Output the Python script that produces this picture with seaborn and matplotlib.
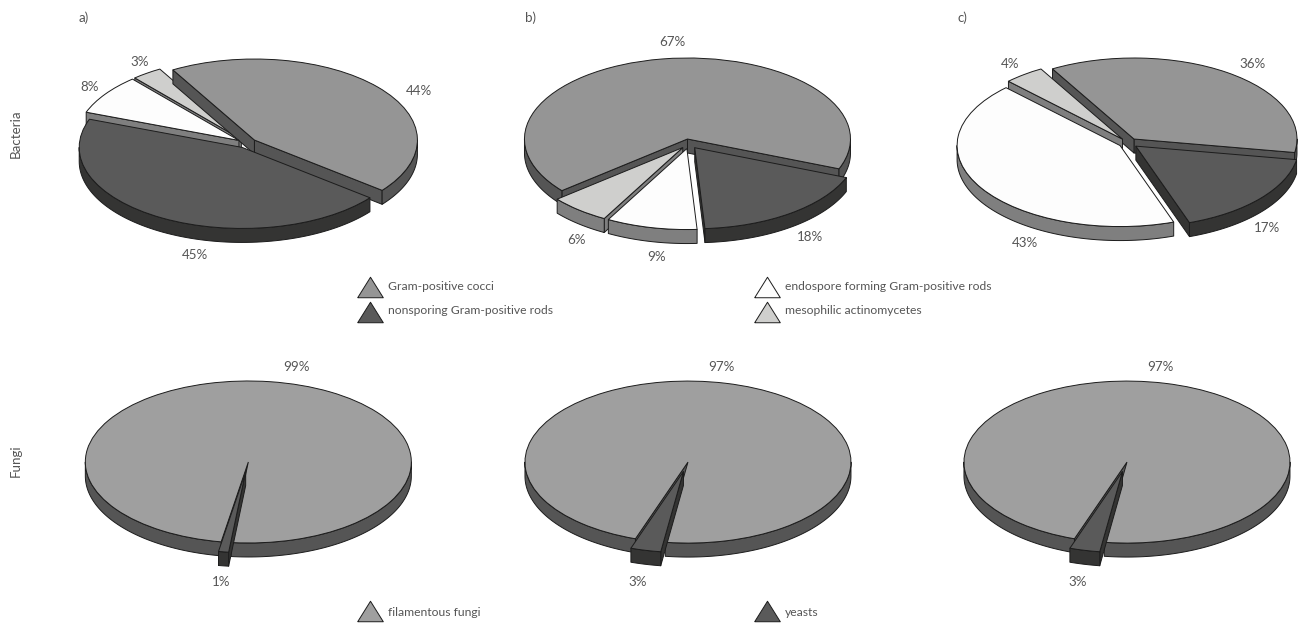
import numpy as np
import matplotlib
matplotlib.use("Agg")
import matplotlib.pyplot as plt
from matplotlib.patches import Polygon
import seaborn as sns

# Percent shares per sample, in drawing order around the pie
bacteria_a = [44, 45, 8, 3]
bacteria_b = [67, 18, 9, 6]
bacteria_c = [36, 17, 43, 4]
fungi_a = [99, 1]
fungi_b = [97, 3]
fungi_c = [97, 3]

bacteria_groups = ["Gram-positive cocci", "nonsporing Gram-positive rods",
                   "endospore forming Gram-positive rods", "mesophilic actinomycetes"]
fungi_groups = ["filamentous fungi", "yeasts"]
panel_tags = ["a)", "b)", "c)"]
row_titles = ["Bacteria", "Fungi"]

# Category colours: top face, side face
bacteria_top = ["#959595", "#5a5a5a", "#fdfdfd", "#cfcfcd"]
bacteria_side = ["#555555", "#343433", "#7f7f7f", "#7f7f7f"]
fungi_top = ["#9f9f9f", "#5a5a5a"]
fungi_side = ["#555555", "#343433"]

WIDTH, HEIGHT = 1300, 623
RX, RY, DEPTH = 163.0, 81.0, 14.0
EXPLODE = 0.06
EDGE = "#1c1c1c"
TEXT = "#555555"

sns.set_theme(style="white")
plt.rcParams["font.family"] = ["Lato", "DejaVu Sans"]

fig = plt.figure(figsize=(WIDTH / 100, HEIGHT / 100), dpi=100)
fig.patch.set_facecolor("white")


def extruded_faces(ax, wedge, side, depth, z):
    """Add the visible walls of one pie slice below its top face."""
    cx, cy = wedge.center
    t1, t2 = wedge.theta1, wedge.theta2
    style = dict(facecolor=side, edgecolor=EDGE, linewidth=0.7, zorder=z, joinstyle="round")

    def radial(theta):
        px = cx + np.cos(np.radians(theta))
        py = cy + np.sin(np.radians(theta))
        return [(cx, cy), (px, py), (px, py - depth), (cx, cy - depth)]

    if np.sin(np.radians(t1 - 90)) < 0:
        ax.add_patch(Polygon(radial(t1), closed=True, **style))
    if np.sin(np.radians(t2 + 90)) < 0:
        ax.add_patch(Polygon(radial(t2), closed=True, **style))

    for low, high in [(-180, 0), (180, 360), (540, 720)]:
        a, b = max(t1, low), min(t2, high)
        if b <= a:
            continue
        th = np.radians(np.linspace(a, b, 80))
        upper = np.column_stack([cx + np.cos(th), cy + np.sin(th)])
        lower = upper[::-1] - [0, depth]
        ax.add_patch(Polygon(np.vstack([upper, lower]), closed=True, **style))


def exploded_pie(values, tops, sides, centre, start):
    """Draw a flattened, extruded pie with every slice pulled out radially."""
    half_w, half_h = 235.0, 130.0
    cx, cy = centre
    ax = fig.add_axes([(cx - half_w) / WIDTH, 1 - (cy + half_h) / HEIGHT,
                       2 * half_w / WIDTH, 2 * half_h / HEIGHT])
    wedges, _ = ax.pie(values, colors=tops, startangle=start, counterclock=False,
                       explode=[EXPLODE] * len(values), radius=1,
                       wedgeprops=dict(edgecolor=EDGE, linewidth=0.7))
    ax.set_aspect("auto")
    ax.set_xlim(-half_w / RX, half_w / RX)
    ax.set_ylim(-half_h / RY, half_h / RY)
    ax.patch.set_alpha(0)
    ax.set_axis_off()

    mids = [np.sin(np.radians((w.theta1 + w.theta2) / 2)) for w in wedges]
    for rank, i in enumerate(np.argsort(mids)[::-1]):
        z = 3 + 2 * rank
        extruded_faces(ax, wedges[i], sides[i], DEPTH / RY, z)
        wedges[i].set_zorder(z + 1)


exploded_pie(bacteria_a, bacteria_top, bacteria_side, (247.0, 143.2), 120)
exploded_pie(bacteria_b, bacteria_top, bacteria_side, (689.0, 143.8), 219.6)
exploded_pie(bacteria_c, bacteria_top, bacteria_side, (1128.4, 143.0), 120)
exploded_pie(fungi_a, fungi_top, fungi_side, (247.0, 466.8), 260.4)
exploded_pie(fungi_b, fungi_top, fungi_side, (685.7, 466.8), 251.2)
exploded_pie(fungi_c, fungi_top, fungi_side, (1124.7, 466.8), 251.2)

# Overlay in figure pixels for annotations and the hand-set legends
overlay = fig.add_axes([0, 0, 1, 1], zorder=50)
overlay.set_xlim(0, WIDTH)
overlay.set_ylim(HEIGHT, 0)
overlay.patch.set_alpha(0)
overlay.set_axis_off()
sns.despine(ax=overlay, left=True, bottom=True)

FS = 9.6
LEGEND_FS = 8.7
pct_labels = [
    (bacteria_a, [(419, 91), (195, 255), (90, 87), (140, 62)]),
    (bacteria_b, [(672, 42), (810, 237), (657, 257), (577, 240)]),
    (bacteria_c, [(1253, 64), (1267, 228), (1025, 243), (1010, 64)]),
    (fungi_a, [(296, 367), (221, 582)]),
    (fungi_b, [(721, 367), (638, 582)]),
    (fungi_c, [(1160, 367), (1078, 582)]),
]
for vals, spots in pct_labels:
    for v, (x, y) in zip(vals, spots):
        overlay.text(x, y, f"{v}%", ha="center", va="center", fontsize=FS, color=TEXT)

for tag, x in zip(panel_tags, [79, 525, 958]):
    overlay.text(x, 18, tag, ha="left", va="center", fontsize=FS, color=TEXT)
for title, y in zip(row_titles, [134, 461]):
    overlay.text(16, y, title, rotation=90, ha="center", va="center", fontsize=FS, color=TEXT)

triangle = [(-1, -0.8), (1, -0.8), (0, 0.8), (-1, -0.8)]
legend_spots = [(370, 287), (370, 312), (767, 287), (767, 312)]
for name, colour, (x, y) in zip(bacteria_groups, bacteria_top, legend_spots):
    overlay.scatter([x], [y], marker=triangle, s=340, c=colour, edgecolors=EDGE, linewidths=0.7)
    overlay.text(x + 18, y - 1, name, ha="left", va="center", fontsize=LEGEND_FS, color=TEXT)
for name, colour, (x, y) in zip(fungi_groups, fungi_top, [(370, 611), (767, 611)]):
    overlay.scatter([x], [y], marker=triangle, s=340, c=colour, edgecolors=EDGE, linewidths=0.7)
    overlay.text(x + 18, y + 1, name, ha="left", va="center", fontsize=LEGEND_FS, color=TEXT)

fig.savefig("out.png", dpi=100, facecolor="white")
